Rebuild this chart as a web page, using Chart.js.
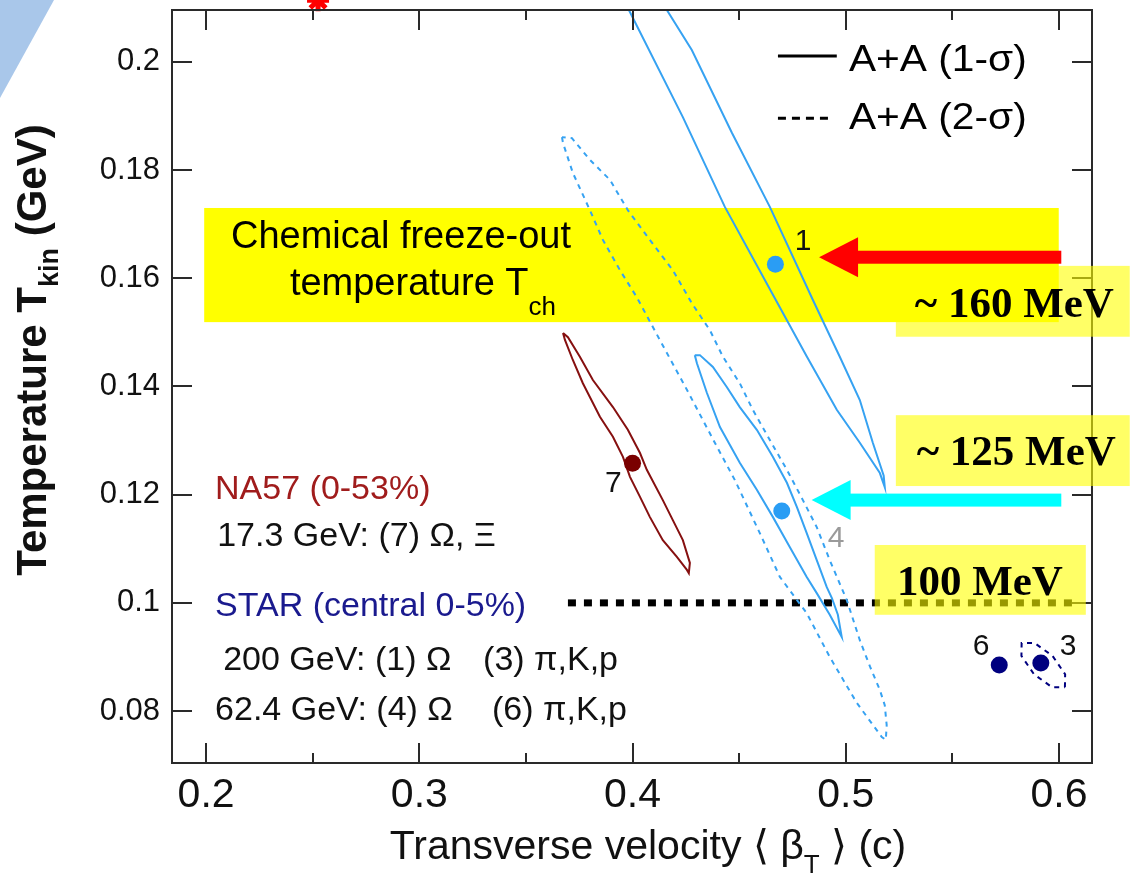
<!DOCTYPE html>
<html>
<head>
<meta charset="utf-8">
<title>Kinetic freeze-out: T_kin vs beta_T</title>
<script src="https://cdn.jsdelivr.net/npm/chart.js@4.4.0/dist/chart.umd.min.js"></script>
<style>
  html, body { margin: 0; padding: 0; background: #fff; }
  #wrap { width: 1130px; height: 878px; }
</style>
</head>
<body>
<div id="wrap"><canvas id="c" width="1130" height="878"></canvas></div>
<script>
// Blast-wave fits: kinetic freeze-out temperature vs mean transverse flow velocity
const SANS = "'Liberation Sans', Arial, sans-serif";
const SERIF = "'Liberation Serif', 'Times New Roman', serif";

const X_MIN = 0.184, X_MAX = 0.6155;
const Y_MIN = 0.0704, Y_MAX = 0.2096;
const X_TICKS = [0.2, 0.3, 0.4, 0.5, 0.6];
const X_MINOR = [0.25, 0.35, 0.45, 0.55];
const Y_TICKS = [0.08, 0.1, 0.12, 0.14, 0.16, 0.18, 0.2];

// fit centroids: <beta_T> (c), T_kin (GeV)
const FIT_IDS = ["1", "4", "7", "6", "3"];
const FIT_BETA = [0.467, 0.470, 0.400, 0.572, 0.5915];
const FIT_TKIN = [0.1626, 0.1170, 0.1258, 0.0885, 0.0889];
const FIT_COLORS = ["#2a9df4", "#2a9df4", "#7a0000", "#00007f", "#00007f"];

// chi2 contours as [beta_T, T_kin]
const OMEGA200_1SIG = [
  [0.3903,0.2262],[0.3824,0.2225],[0.3983,0.2096],[0.4236,0.1898],[0.4433,0.1732],
  [0.4654,0.1573],[0.4818,0.1455],[0.4958,0.1357],[0.5066,0.1296],[0.5160,0.1240],
  [0.5183,0.1214],[0.5178,0.1235],[0.5127,0.1296],[0.5066,0.1375],[0.4972,0.1455],
  [0.4846,0.1560],[0.4644,0.1732],[0.4466,0.1869],[0.4278,0.2022],[0.4161,0.2096],
  [0.3992,0.2225],[0.3903,0.2262]
];
const OMEGA62_1SIG = [
  [0.4292,0.1458],[0.4302,0.1443],[0.4349,0.1388],[0.4410,0.1325],[0.4503,0.1259],
  [0.4583,0.1209],[0.4658,0.1159],[0.4738,0.1103],[0.4817,0.1048],[0.4864,0.1018],
  [0.4925,0.0978],[0.4981,0.0937],[0.4963,0.0978],[0.4935,0.1009],[0.4911,0.1029],
  [0.4864,0.1079],[0.4817,0.1129],[0.4771,0.1177],[0.4724,0.1222],[0.4658,0.1270],
  [0.4583,0.1320],[0.4503,0.1362],[0.4442,0.1399],[0.4377,0.1436],[0.4316,0.1458],
  [0.4292,0.1458]
];
const OMEGA62_2SIG = [
  [0.3669,0.1861],[0.3674,0.1850],[0.3720,0.1795],[0.3800,0.1726],[0.3861,0.1671],
  [0.3941,0.1615],[0.4020,0.1565],[0.4128,0.1486],[0.4255,0.1394],[0.4386,0.1296],
  [0.4480,0.1227],[0.4597,0.1129],[0.4691,0.1048],[0.4817,0.0981],[0.4925,0.0900],
  [0.5052,0.0815],[0.5169,0.0752],[0.5188,0.0747],[0.5192,0.0774],[0.5183,0.0811],
  [0.5160,0.0839],[0.5114,0.0882],[0.5066,0.0931],[0.5005,0.1005],[0.4925,0.1079],
  [0.4864,0.1140],[0.4799,0.1190],[0.4724,0.1246],[0.4644,0.1301],[0.4564,0.1357],
  [0.4503,0.1406],[0.4424,0.1455],[0.4363,0.1504],[0.4278,0.1554],[0.4189,0.1615],
  [0.4081,0.1671],[0.3978,0.1726],[0.3894,0.1782],[0.3800,0.1819],[0.3716,0.1859],
  [0.3669,0.1861]
];
const NA57_1SIG = [
  [0.3674,0.1499],[0.3683,0.1486],[0.3720,0.1449],[0.3767,0.1406],[0.3847,0.1344],
  [0.3908,0.1307],[0.3955,0.1270],[0.3988,0.1233],[0.4035,0.1196],[0.4081,0.1159],
  [0.4142,0.1116],[0.4208,0.1085],[0.4255,0.1061],[0.4264,0.1055],[0.4269,0.1074],
  [0.4236,0.1116],[0.4189,0.1153],[0.4142,0.1190],[0.4067,0.1246],[0.4035,0.1277],
  [0.3978,0.1320],[0.3908,0.1362],[0.3814,0.1412],[0.3753,0.1455],[0.3697,0.1491],
  [0.3674,0.1499]
];
const PIKP200_2SIG = [
  [0.6028,0.0844],[0.6029,0.0868],[0.5970,0.0902],[0.5885,0.0926],[0.5825,0.0926],
  [0.5824,0.0902],[0.5883,0.0868],[0.5968,0.0844],[0.6028,0.0844]
];

// marker sitting just above the frame
const OFF_BETA = [0.2525];
const OFF_TKIN = [0.2114];

// reference level marked with the dotted line (GeV)
const LEVEL_100 = 0.1;

const LIGHT = "#36a2f2";
const DARKRED = "#861010";
const NAVY = "#00007f";

const toXY = arr => arr.map(([x, y]) => ({ x, y }));

function contour(data, color, dashed) {
  return {
    data: toXY(data), showLine: true, pointRadius: 0, borderColor: color,
    borderWidth: 2, borderDash: dashed ? [5, 5] : [], fill: false, tension: 0
  };
}

const datasets = [
  {
    data: FIT_BETA.map((b, i) => ({ x: b, y: FIT_TKIN[i] })),
    pointRadius: 8.5, pointBackgroundColor: FIT_COLORS, pointBorderColor: FIT_COLORS,
    pointBorderWidth: 0, showLine: false
  },
  {
    data: OFF_BETA.map((b, i) => ({ x: b, y: OFF_TKIN[i] })),
    pointStyle: 'star', pointRadius: 11, pointBorderColor: '#ff0000', pointBorderWidth: 5,
    showLine: false, clip: false
  },
  contour(OMEGA200_1SIG, LIGHT, false),
  contour(OMEGA62_1SIG, LIGHT, false),
  contour(OMEGA62_2SIG, LIGHT, true),
  contour(NA57_1SIG, DARKRED, false),
  contour(PIKP200_2SIG, NAVY, true),
  {
    data: [{ x: 0.3697, y: LEVEL_100 }, { x: 0.607, y: LEVEL_100 }],
    showLine: true, pointRadius: 0, borderColor: '#000', borderWidth: 7,
    borderDash: [8, 8], borderCapStyle: 'butt'
  }
];

// text made of runs (for subscripts)
function drawRich(ctx, parts, x, y, align) {
  let w = 0;
  parts.forEach(p => { ctx.font = p.font; p.w = ctx.measureText(p.text).width; w += p.w; });
  let cx = align === 'center' ? x - w / 2 : x;
  ctx.textAlign = 'left';
  parts.forEach(p => {
    ctx.font = p.font;
    if (p.color) ctx.fillStyle = p.color;
    ctx.fillText(p.text, cx, y + (p.dy || 0));
    cx += p.w;
  });
}

function arrow(ctx, x0, x1, y, color) {
  ctx.fillStyle = color;
  ctx.fillRect(x1 + 38, y - 6.5, x0 - x1 - 38, 13);
  ctx.beginPath();
  ctx.moveTo(x1, y);
  ctx.lineTo(x1 + 39, y - 20);
  ctx.lineTo(x1 + 39, y + 20);
  ctx.closePath();
  ctx.fill();
}

const overlay = {
  id: 'overlay',
  beforeDatasetsDraw(chart) {
    const { ctx, scales: { x, y } } = chart;
    ctx.save();
    // chemical freeze-out band
    const bx0 = x.getPixelForValue(0.1991), bx1 = x.getPixelForValue(0.5999);
    const by0 = y.getPixelForValue(0.1730), by1 = y.getPixelForValue(0.1519);
    ctx.fillStyle = '#ffff00';
    ctx.fillRect(bx0, by0, bx1 - bx0, by1 - by0);
    ctx.fillStyle = '#000';
    ctx.textBaseline = 'alphabetic';
    drawRich(ctx, [{ text: 'Chemical freeze-out', font: `38px ${SANS}` }],
      x.getPixelForValue(0.2914), y.getPixelForValue(0.1656), 'center');
    drawRich(ctx, [
      { text: 'temperature T', font: `38px ${SANS}` },
      { text: 'ch', font: `26px ${SANS}`, dy: 20 }
    ], x.getPixelForValue(0.3017), y.getPixelForValue(0.1569), 'center');
    ctx.restore();
  },
  afterDatasetsDraw(chart) {
    const { ctx, chartArea: a, scales: { x, y } } = chart;
    ctx.save();
    // frame and inward ticks on all four sides
    ctx.strokeStyle = '#2a2a2a';
    ctx.lineWidth = 2;
    ctx.strokeRect(a.left, a.top, a.right - a.left, a.bottom - a.top);
    ctx.beginPath();
    X_TICKS.forEach(v => {
      const px = Math.round(x.getPixelForValue(v));
      ctx.moveTo(px, a.bottom); ctx.lineTo(px, a.bottom - 20);
      ctx.moveTo(px, a.top); ctx.lineTo(px, a.top + 20);
    });
    X_MINOR.forEach(v => {
      const px = Math.round(x.getPixelForValue(v));
      ctx.moveTo(px, a.bottom); ctx.lineTo(px, a.bottom - 10);
      ctx.moveTo(px, a.top); ctx.lineTo(px, a.top + 10);
    });
    Y_TICKS.forEach(v => {
      const py = Math.round(y.getPixelForValue(v));
      ctx.moveTo(a.left, py); ctx.lineTo(a.left + 20, py);
      ctx.moveTo(a.right, py); ctx.lineTo(a.right - 20, py);
    });
    ctx.stroke();

    const P = (bx, ty) => [x.getPixelForValue(bx), y.getPixelForValue(ty)];
    ctx.textBaseline = 'alphabetic';
    ctx.textAlign = 'left';

    // fit labels
    ctx.font = `30px ${SANS}`;
    ctx.fillStyle = '#111';
    ctx.fillText('1', ...P(0.4761, 0.1652));
    ctx.fillText('7', ...P(0.3871, 0.1205));
    ctx.fillText('6', ...P(0.5596, 0.0904));
    ctx.fillText('3', ...P(0.6004, 0.0904));
    ctx.fillStyle = '#9a9a9a';
    ctx.fillText('4', ...P(0.4916, 0.1103));

    // legend
    ctx.strokeStyle = '#000';
    ctx.lineWidth = 3;
    ctx.beginPath();
    ctx.moveTo(...P(0.4682, 0.2011)); ctx.lineTo(...P(0.4958, 0.2011));
    ctx.stroke();
    ctx.setLineDash([8, 6]);
    ctx.beginPath();
    ctx.moveTo(...P(0.4682, 0.1896)); ctx.lineTo(...P(0.4930, 0.1896));
    ctx.stroke();
    ctx.setLineDash([]);
    ctx.fillStyle = '#000';
    ctx.font = `37px ${SANS}`;
    [['A+A (1-σ)', 0.1984], ['A+A (2-σ)', 0.1876]].forEach(([t, ty]) => {
      const [lx, ly] = P(0.5015, ty);
      ctx.save();
      ctx.translate(lx, ly);
      ctx.scale(1.1, 1);
      ctx.fillText(t, 0, 0);
      ctx.restore();
    });

    // experiment key
    ctx.font = `34px ${SANS}`;
    ctx.fillStyle = '#a01c1c';
    ctx.fillText('NA57 (0-53%)', ...P(0.2042, 0.1192));
    ctx.fillStyle = '#111';
    ctx.fillText('17.3 GeV: (7) Ω, Ξ', ...P(0.2052, 0.1105));
    ctx.fillStyle = '#1a1a8e';
    ctx.fillText('STAR (central 0-5%)', ...P(0.2042, 0.0976));
    ctx.fillStyle = '#111';
    ctx.fillText('200 GeV: (1) Ω', ...P(0.2080, 0.0876));
    ctx.fillText('(3) π,K,p', ...P(0.3299, 0.0876));
    ctx.fillText('62.4 GeV: (4) Ω', ...P(0.2042, 0.0784));
    ctx.fillText('(6) π,K,p', ...P(0.3341, 0.0784));
    ctx.restore();
  },
  afterDraw(chart) {
    const { ctx, scales: { x, y } } = chart;
    ctx.save();
    // arrows to the two Omega fits
    arrow(ctx, x.getPixelForValue(0.6011), x.getPixelForValue(0.4875), y.getPixelForValue(0.1639), '#ff0000');
    arrow(ctx, x.getPixelForValue(0.6011), x.getPixelForValue(0.4840), y.getPixelForValue(0.1190), '#00ffff');

    // temperature call-outs
    const boxes = [
      { x0: 0.5235, x1: 0.6332, y0: 0.1623, y1: 0.1492, text: '~ 160 MeV', tx: 0.5324, ty: 0.1528 },
      { x0: 0.5235, x1: 0.6332, y0: 0.1347, y1: 0.1216, text: '~ 125 MeV', tx: 0.5333, ty: 0.1255 },
      { x0: 0.5136, x1: 0.6126, y0: 0.1107, y1: 0.0978, text: '100 MeV', tx: 0.5240, ty: 0.1015 }
    ];
    boxes.forEach(b => {
      const px0 = x.getPixelForValue(b.x0), px1 = x.getPixelForValue(b.x1);
      const py0 = y.getPixelForValue(b.y0), py1 = y.getPixelForValue(b.y1);
      ctx.fillStyle = 'rgba(255,255,0,0.6)';
      ctx.fillRect(px0, py0, px1 - px0, py1 - py0);
    });
    ctx.fillStyle = '#000';
    ctx.font = `bold 43px ${SERIF}`;
    ctx.textAlign = 'left';
    ctx.textBaseline = 'alphabetic';
    boxes.forEach(b => ctx.fillText(b.text, x.getPixelForValue(b.tx), y.getPixelForValue(b.ty)));

    // axis titles
    ctx.fillStyle = '#111';
    drawRich(ctx, [
      { text: 'Transverse velocity \u27e8 β', font: `41px ${SANS}` },
      { text: 'T', font: `26px ${SANS}`, dy: 14 },
      { text: ' \u27e9 (c)', font: `41px ${SANS}` }
    ], 648, 859, 'center');
    ctx.save();
    ctx.translate(46, 350);
    ctx.rotate(-Math.PI / 2);
    drawRich(ctx, [
      { text: 'Temperature T', font: `bold 42px ${SANS}` },
      { text: 'kin', font: `bold 27px ${SANS}`, dy: 12 },
      { text: ' (GeV)', font: `bold 42px ${SANS}` }
    ], 0, 0, 'center');
    ctx.restore();

    // slide corner decoration
    ctx.fillStyle = '#a9c7ea';
    ctx.beginPath();
    ctx.moveTo(0, 0); ctx.lineTo(54, 0); ctx.lineTo(0, 98); ctx.closePath();
    ctx.fill();
    ctx.restore();
  }
};

new Chart(document.getElementById('c').getContext('2d'), {
  type: 'scatter',
  data: { datasets },
  options: {
    responsive: false,
    animation: false,
    events: [],
    layout: { autoPadding: false, padding: { top: 10, right: 38, left: 0, bottom: 0 } },
    plugins: { legend: { display: false }, tooltip: { enabled: false } },
    scales: {
      x: {
        type: 'linear', min: X_MIN, max: X_MAX,
        afterFit: s => { s.height = 115; s.paddingLeft = 0; s.paddingRight = 0; },
        afterBuildTicks: s => { s.ticks = X_TICKS.map(v => ({ value: v })); },
        grid: { display: false, drawTicks: false }, border: { display: false },
        ticks: { font: { family: SANS, size: 41 }, color: '#111', padding: 8,
                 maxRotation: 0, autoSkip: false, callback: v => String(v) }
      },
      y: {
        type: 'linear', min: Y_MIN, max: Y_MAX,
        afterFit: s => { s.width = 172; s.paddingTop = 0; s.paddingBottom = 0; },
        afterBuildTicks: s => { s.ticks = Y_TICKS.map(v => ({ value: v })); },
        grid: { display: false, drawTicks: false }, border: { display: false },
        ticks: { font: { family: SANS, size: 31 }, color: '#111', padding: 12,
                 autoSkip: false, callback: v => String(v) }
      }
    }
  },
  plugins: [overlay]
});
</script>
</body>
</html>
